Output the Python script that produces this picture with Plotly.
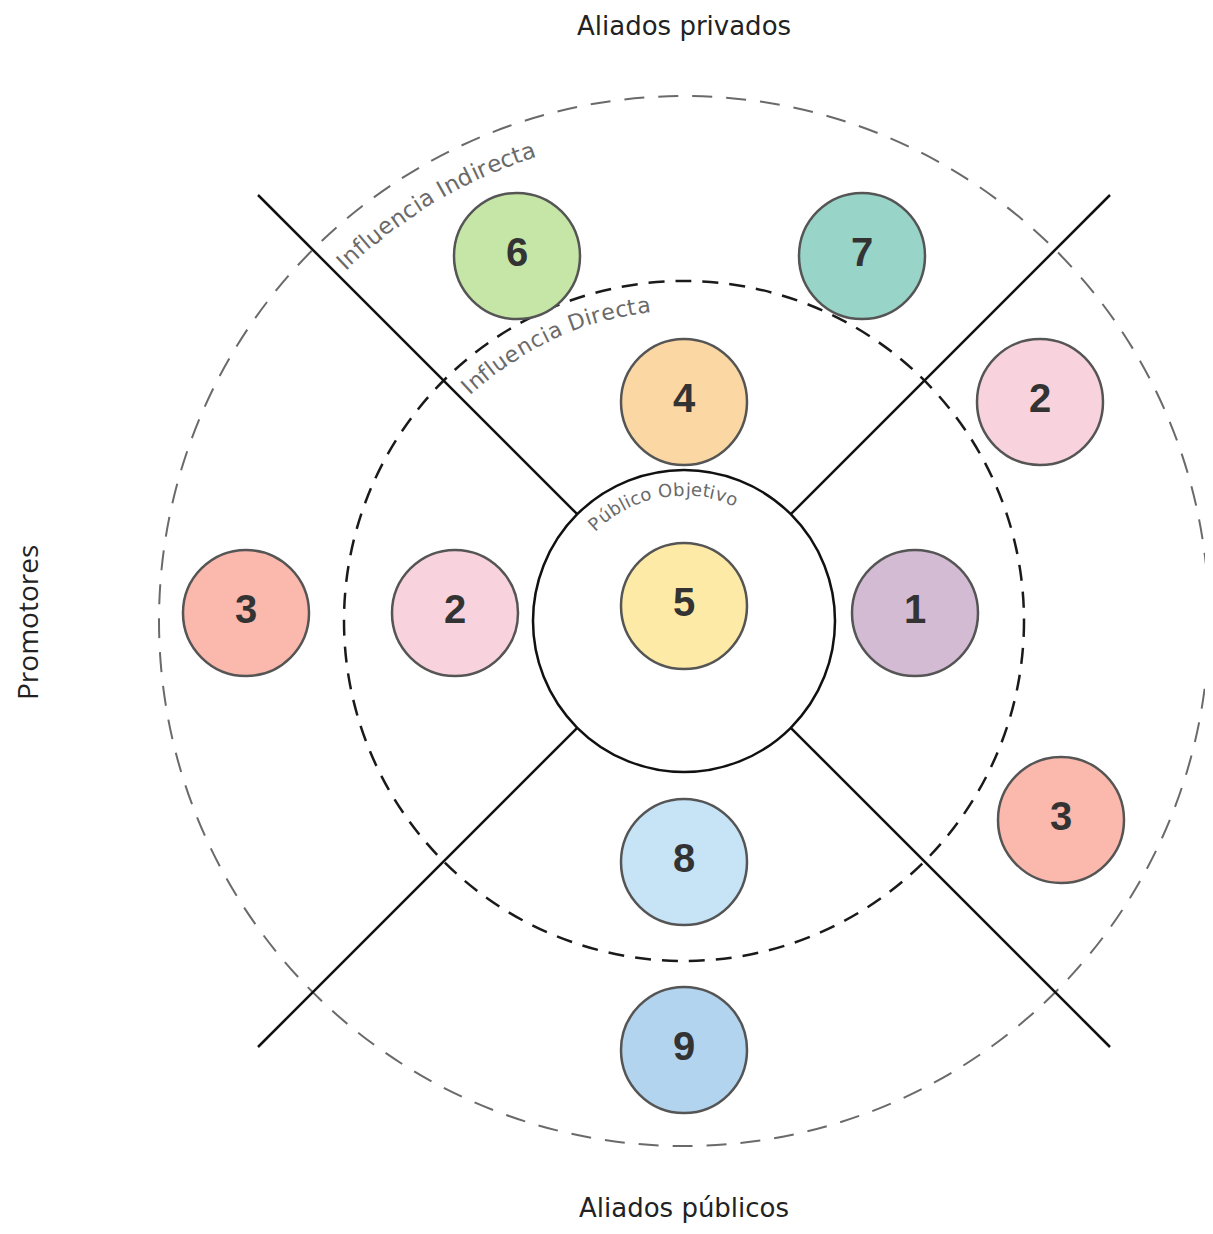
import math
import plotly.graph_objects as go

# ---------------- data ----------------
W, H = 1213, 1234
CX, CY = 684, 621

ring_names = ["Público Objetivo", "Influencia Directa", "Influencia Indirecta"]
ring_radius = [151, 340, 525]

bubble_labels = ["6", "7", "4", "2", "3", "2", "5", "1", "3", "8", "9"]
bubble_x = [517, 862, 684, 1040, 246, 455, 684, 915, 1061, 684, 684]
bubble_y = [256, 256, 402, 402, 613, 613, 606, 613, 820, 862, 1050]
bubble_colors = ["#c6e6a8", "#98d4c8", "#fbd7a3", "#f8d3de", "#fbb9ae",
                 "#f8d3de", "#fdeaa6", "#d3bbd3", "#fbb9ae", "#c6e4f6", "#b2d4ef"]

side_labels = ["Aliados privados", "Aliados públicos", "Promotores"]

# page body margin in the browser
PAD = 8

# ---------------- figure ----------------
fig = go.Figure()
shapes = []

# rings
ring_styles = [
    dict(color="#111111", width=2.5, dash="solid"),
    dict(color="#1a1a1a", width=2.5, dash="16px,11px"),
    dict(color="#6a6a6a", width=2, dash="20px,14px"),
]
for r, st in zip(ring_radius, ring_styles):
    shapes.append(dict(type="circle", xref="x", yref="y",
                       x0=CX - r, x1=CX + r, y0=CY - r, y1=CY + r,
                       line=st, layer="below"))

# diagonal separators from inner circle outward
d_in = ring_radius[0] / math.sqrt(2)
d_out = 426
for sx in (-1, 1):
    for sy in (-1, 1):
        shapes.append(dict(type="line", xref="x", yref="y",
                           x0=CX + sx * d_in, y0=CY + sy * d_in,
                           x1=CX + sx * d_out, y1=CY + sy * d_out,
                           line=dict(color="#111111", width=2.5), layer="below"))

# bubbles
fig.add_trace(go.Scatter(
    x=bubble_x, y=bubble_y, mode="markers+text",
    text=bubble_labels, textposition="middle center",
    textfont=dict(family="Liberation Sans, Arial", size=40, color="#333333", weight="bold"),
    marker=dict(size=126, color=bubble_colors, line=dict(color="#555555", width=2.5), opacity=1),
    hoverinfo="skip", showlegend=False, cliponaxis=False,
))

annotations = []

# curved labels
cw = {'I': .29, 'n': .63, 'f': .35, 'l': .28, 'u': .63, 'e': .62, 'c': .55, 'i': .28,
      'a': .61, ' ': .32, 'd': .63, 'r': .41, 't': .39, 'D': .77, 'P': .60, 'ú': .63,
      'b': .63, 'o': .61, 'O': .79, 'j': .28, 'v': .59}
arc_specs = [  # text, radius of text centre, start angle, end angle (deg, clockwise from top), font size
    (ring_names[2], 495, -44.0, -17.5, 23),
    (ring_names[1], 318, -43.5, -6.0, 22),
    (ring_names[0], 132, -45.0, 24.0, 18),
]
for text, r, a0, a1, fs in arc_specs:
    widths = [cw.get(ch, .6) for ch in text]
    total = sum(widths)
    cum = 0
    for ch, w in zip(text, widths):
        frac = (cum + w / 2) / total
        cum += w
        if ch == " ":
            continue
        th = a0 + frac * (a1 - a0)
        t = math.radians(th)
        annotations.append(dict(
            x=CX + r * math.sin(t), y=CY - r * math.cos(t), xref="x", yref="y",
            text=ch, showarrow=False, textangle=th,
            xanchor="center", yanchor="middle",
            font=dict(family="DejaVu Sans", size=fs, color="#6a6a6a")))

# side labels
annotations.append(dict(x=684, y=26, xref="x", yref="y", text=side_labels[0], showarrow=False,
                        font=dict(family="DejaVu Sans", size=26, color="#222222"),
                        xanchor="center", yanchor="middle"))
annotations.append(dict(x=684, y=1208, xref="x", yref="y", text=side_labels[1], showarrow=False,
                        font=dict(family="DejaVu Sans", size=26, color="#222222"),
                        xanchor="center", yanchor="middle"))
annotations.append(dict(x=27, y=623, xref="x", yref="y", text=side_labels[2], showarrow=False,
                        textangle=-90,
                        font=dict(family="Open Sans", size=28, color="#222222"),
                        xanchor="center", yanchor="middle"))

fig.update_layout(
    width=W - 2 * PAD, height=H - 2 * PAD, margin=dict(l=0, r=0, t=0, b=0),
    paper_bgcolor="white", plot_bgcolor="white",
    xaxis=dict(range=[PAD, W - PAD], visible=False, fixedrange=True),
    yaxis=dict(range=[H - PAD, PAD], visible=False, fixedrange=True),
    shapes=shapes, annotations=annotations, showlegend=False,
)

fig.write_html("out.html")
